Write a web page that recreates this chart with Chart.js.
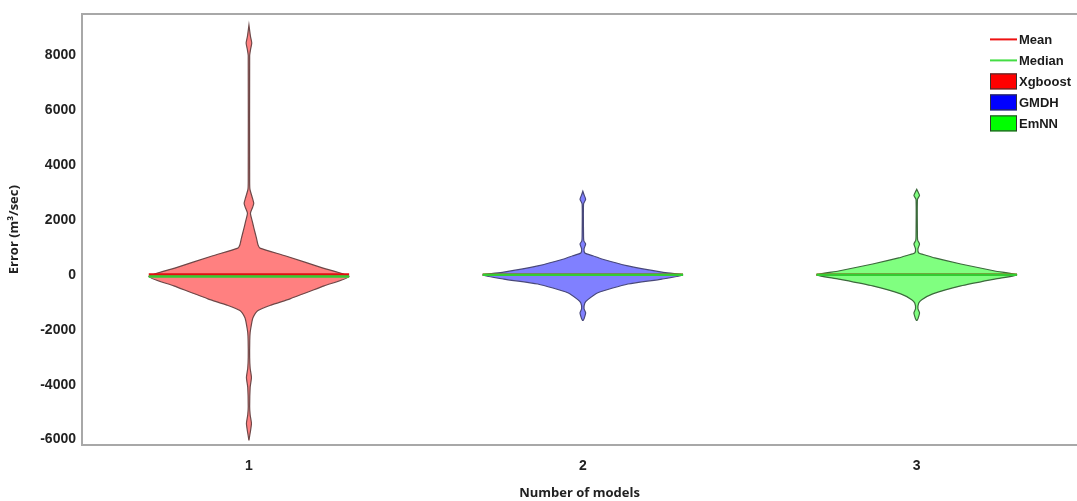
<!doctype html>
<html>
<head>
<meta charset="utf-8">
<title>Error violin plot</title>
<script src="https://cdn.jsdelivr.net/npm/chart.js@4.4.1/dist/chart.umd.min.js"></script>
<style>
  html, body { margin: 0; padding: 0; background: #ffffff; }
  #wrap { width: 1077px; height: 501px; position: relative; }
</style>
</head>
<body>
<div id="wrap"><canvas id="chart"></canvas></div>
<script>
// Models on the x axis and their violin profiles (error level -> relative density width)
const models = ['Xgboost', 'GMDH', 'EmNN'];
const modelPositions = [1, 2, 3];
const xTicks = [1, 2, 3];
const yTicks = [-6000, -4000, -2000, 0, 2000, 4000, 6000, 8000];

const xgbLevels = [-6030, -5700, -5410, -5100, -4800, -4100, -3740, -3400, -3000, -2400, -2100, -1800, -1560, -1300, -1100, -870, -400, -60,
  250, 700, 980, 1100, 1340, 1700, 1960, 2250, 2450, 2610, 2800, 3120, 3400, 8000, 8200, 8460, 8700, 9110];
const xgbDensity = [0, 0.015, 0.025, 0.012, 0.007, 0.012, 0.025, 0.012, 0.007, 0.008, 0.012, 0.025, 0.04, 0.09, 0.22, 0.41, 0.75, 1.0,
  0.74, 0.36, 0.11, 0.09, 0.075, 0.05, 0.033, 0.015, 0.035, 0.048, 0.035, 0.01, 0.007, 0.007, 0.015, 0.028, 0.015, 0];

const gmdhLevels = [-1670, -1600, -1380, -1230, -1020, -900, -650, -330, -150, 0, 100, 330, 580, 700, 800, 950, 1130, 1240, 1400, 2590, 2760, 2940, 3050];
const gmdhDensity = [0, 0.012, 0.028, 0.012, 0.02, 0.05, 0.15, 0.45, 0.79, 1.0, 0.79, 0.45, 0.19, 0.1, 0.02, 0.012, 0.028, 0.01, 0.007, 0.007, 0.028, 0.01, 0];

const emnnLevels = [-1670, -1600, -1380, -1230, -1020, -900, -690, -400, -150, 0, 145, 400, 620, 720, 800, 950, 1130, 1260, 1400, 2750, 2900, 3050, 3120];
const emnnDensity = [0, 0.012, 0.028, 0.012, 0.02, 0.05, 0.16, 0.44, 0.78, 1.0, 0.78, 0.44, 0.18, 0.09, 0.02, 0.012, 0.028, 0.01, 0.007, 0.007, 0.028, 0.01, 0];

const means = [20, 10, 10];
const medians = [-60, 10, 10];

const fillColors = ['#ff8080', '#8080ff', '#80ff80'];
const edgeColors = ['#6e4848', '#48487a', '#3c6a3c'];
const MAX_HALF_WIDTH = 0.3; // in x-axis units

const tickFont = { family: "'Liberation Sans', Arial, sans-serif", size: 14, weight: 'bold' };
const titleFont = { family: "'Open Sans', sans-serif", size: 13, weight: 'bold' };

// closed outline: right side going up, left side coming back down
function violinOutline(center, levels, density) {
  const right = levels.map((v, i) => ({ x: center + density[i] * MAX_HALF_WIDTH, y: v }));
  const left = levels.map((v, i) => ({ x: center - density[i] * MAX_HALF_WIDTH, y: v })).reverse();
  return right.concat(left);
}

function hLine(center, value) {
  return [{ x: center - MAX_HALF_WIDTH, y: value }, { x: center + MAX_HALF_WIDTH, y: value }];
}

const profiles = [[xgbLevels, xgbDensity], [gmdhLevels, gmdhDensity], [emnnLevels, emnnDensity]];

const datasets = [];
modelPositions.forEach((c, i) => {
  datasets.push({ label: 'Median', data: hLine(c, medians[i]), showLine: true, borderColor: '#33cc33', borderWidth: 2.5, pointRadius: 0, order: 1 });
  datasets.push({ label: 'Mean', data: hLine(c, means[i]), showLine: true, borderColor: '#e01010', borderWidth: 2.5, pointRadius: 0, order: 2 });
  datasets.push({
    label: models[i],
    data: violinOutline(c, profiles[i][0], profiles[i][1]),
    showLine: true,
    fill: 'shape',
    backgroundColor: fillColors[i],
    borderColor: edgeColors[i],
    borderWidth: 1.2,
    tension: 0.2,
    pointRadius: 0,
    order: 3
  });
});

// legend entries, drawn inside the top-right corner of the plot
const legendLabels = ['Mean', 'Median', 'Xgboost', 'GMDH', 'EmNN'];
const legendKinds = ['line', 'line', 'box', 'box', 'box'];
const legendColors = ['#ee1111', '#44dd44', '#ff0000', '#0000ff', '#00ff00'];

const cornerLegend = {
  id: 'cornerLegend',
  afterDraw(chart) {
    const { ctx, chartArea } = chart;
    const x0 = chartArea.right - 87;
    let y = chartArea.top + 25;
    ctx.save();
    ctx.font = "bold 13px 'Liberation Sans', Arial, sans-serif";
    ctx.textBaseline = 'middle';
    legendLabels.forEach((lab, i) => {
      if (legendKinds[i] === 'line') {
        ctx.strokeStyle = legendColors[i];
        ctx.lineWidth = 2;
        ctx.beginPath();
        ctx.moveTo(x0, y);
        ctx.lineTo(x0 + 27, y);
        ctx.stroke();
      } else {
        ctx.fillStyle = legendColors[i];
        ctx.fillRect(x0, y - 8, 27, 16);
        ctx.strokeStyle = '#333';
        ctx.lineWidth = 1;
        ctx.strokeRect(x0 + 0.5, y - 7.5, 26, 15);
      }
      ctx.fillStyle = '#1a1a1a';
      ctx.fillText(lab, x0 + 29, y + 1);
      y += 21;
    });
    ctx.restore();
  }
};

new Chart(document.getElementById('chart'), {
  type: 'scatter',
  data: { datasets },
  options: {
    responsive: true,
    maintainAspectRatio: false,
    animation: false,
    layout: { padding: { top: 12, right: 0, left: 0, bottom: 0 } },
    plugins: { legend: { display: false }, tooltip: { enabled: false } },
    scales: {
      x: {
        type: 'linear', position: 'bottom', min: 0.5, max: 3.48,
        grid: { display: false, drawTicks: false },
        border: { display: true, color: '#a8a8a8', width: 2 },
        afterBuildTicks: (s) => { s.ticks = xTicks.map(v => ({ value: v })); },
        ticks: { padding: 13, color: '#222', font: tickFont, callback: (v) => String(v) },
        title: { display: true, text: 'Number of models', color: '#222', font: titleFont, padding: { top: 0, bottom: 0 } },
        afterFit: (s) => { s.height = 56; }
      },
      xTop: {
        type: 'linear', position: 'top', min: 0.5, max: 3.48,
        grid: { display: false, drawTicks: false },
        border: { display: true, color: '#a8a8a8', width: 2 },
        ticks: { display: false },
        afterFit: (s) => { s.height = 0; }
      },
      y: {
        type: 'linear', min: -6200, max: 9500,
        grid: { display: false, drawTicks: false },
        border: { display: true, color: '#a8a8a8', width: 2 },
        afterBuildTicks: (s) => { s.ticks = yTicks.map(v => ({ value: v })); },
        ticks: { padding: 6, color: '#222', font: tickFont, callback: (v) => String(v) },
        title: { display: true, text: 'Error (m³/sec)', color: '#222', font: titleFont, padding: { top: 6, bottom: 0 } },
        afterFit: (s) => { s.width = 82; }
      }
    }
  },
  plugins: [cornerLegend]
});
</script>
</body>
</html>
